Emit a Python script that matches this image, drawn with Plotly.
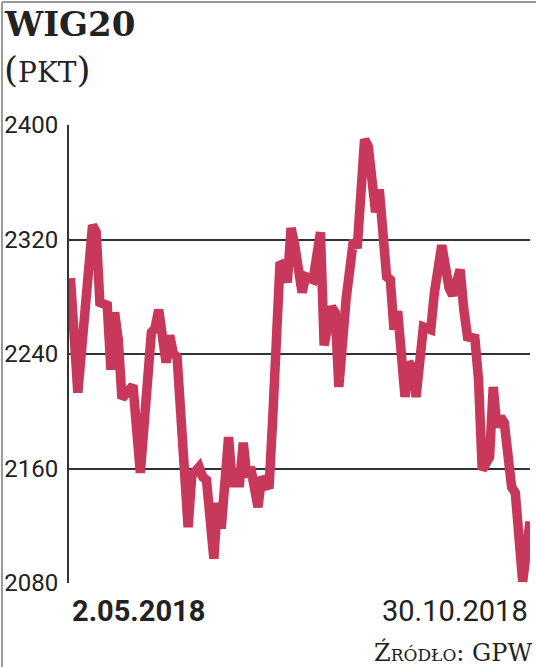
import plotly.graph_objects as go

# WIG20 close (session index from 2.05.2018 to 30.10.2018)
sessions = [0, 2, 6, 7, 8, 10, 11, 12, 13, 14, 17, 19, 22, 23, 24, 26, 27, 28, 29,
            32, 33, 35, 36, 37, 39, 40, 41, 43, 44, 46, 47, 48, 49, 51, 52, 54, 55,
            56, 57, 58, 59, 60, 61, 63, 64, 66, 68, 69, 71, 72, 73, 75, 77, 78, 79,
            80, 81, 83, 84, 86, 87, 88, 89, 91, 92, 93, 94, 96, 98, 99, 101, 103,
            104, 106, 107, 108, 110, 111, 112, 114, 115, 116, 117, 118, 120, 121,
            123, 125]
wig20 = [2293, 2213, 2330, 2325, 2276, 2274, 2229, 2269, 2250, 2209, 2218, 2157,
         2255, 2258, 2271, 2234, 2253, 2240, 2238,
         2119, 2155, 2161, 2154, 2152, 2097, 2136, 2118, 2182, 2150, 2150, 2178,
         2154, 2161, 2133, 2154, 2146, 2194,
         2248, 2304, 2302, 2290, 2328, 2316, 2283, 2294, 2292, 2325, 2246, 2273,
         2269, 2217, 2279, 2320, 2314, 2366,
         2390, 2385, 2339, 2355, 2294, 2292, 2257, 2270, 2210, 2234, 2231, 2210,
         2259, 2257, 2283, 2316, 2286,
         2281, 2299, 2271, 2252, 2251, 2222, 2159, 2168, 2217, 2189, 2196, 2192,
         2147, 2143, 2081, 2123]

y_ticks = [2080, 2160, 2240, 2320, 2400]
date_first = "2.05.2018"
date_last = "30.10.2018"

INK = "#333333"
TEXT = "#222222"
RED = "#c8385a"

fig = go.Figure()
fig.add_trace(go.Scatter(
    x=sessions, y=wig20, mode="lines",
    line=dict(color=RED, width=9.5),
    cliponaxis=False, showlegend=False, hoverinfo="skip",
))

fig.update_layout(
    width=536, height=667,
    margin=dict(l=69, r=6, t=125, b=84),
    paper_bgcolor="white", plot_bgcolor="white",
    xaxis=dict(range=[-0.4, 125], showgrid=False, zeroline=False,
               showticklabels=False, showline=False, automargin=False),
    yaxis=dict(range=[2080, 2400], tickvals=y_ticks, showgrid=True,
               gridcolor=INK, gridwidth=2, zeroline=False,
               showline=True, linecolor=INK, linewidth=2,
               ticks="", ticklabelstandoff=4, automargin=False,
               tickfont=dict(family="Roboto", size=24, color=TEXT)),
    annotations=[
        dict(text="WIG20", xref="paper", yref="paper", x=-0.145, y=1.2686,
             xanchor="left", yanchor="top", showarrow=False,
             font=dict(family="DejaVu Serif", size=34, color=TEXT, weight="bold")),
        dict(text="<span style='font-size:36px'>(</span>PKT<span style='font-size:36px'>)</span>",
             xref="paper", yref="paper", x=-0.145, y=1.17,
             xanchor="left", yanchor="top", showarrow=False,
             font=dict(family="DejaVu Serif", size=28, color=TEXT)),
        dict(text=date_first, xref="x", yref="paper", x=0, y=-0.02,
             xanchor="left", yanchor="top", showarrow=False,
             font=dict(family="Roboto", size=29, color=TEXT, weight="bold")),
        dict(text=date_last, xref="x", yref="paper", x=125, y=-0.02,
             xanchor="right", yanchor="top", showarrow=False,
             font=dict(family="Roboto", size=29, color=TEXT)),
        dict(text="Źródło: GPW", xref="paper", yref="paper", x=1.008, y=-0.115,
             xanchor="right", yanchor="top", showarrow=False,
             font=dict(family="DejaVu Serif", size=24, color=TEXT, variant="small-caps")),
    ],
    shapes=[
        dict(type="line", xref="paper", yref="paper", x0=-0.1453, x1=-0.1453,
             y0=1.2686, y1=-0.2, line=dict(color="#9a9a9a", width=2)),
        dict(type="line", xref="paper", yref="paper", x0=-0.1453, x1=1.02,
             y0=1.2686, y1=1.2686, line=dict(color="#9a9a9a", width=2)),
    ],
)

fig.write_html("out.html", config={"displayModeBar": False},
               post_script="document.body.style.margin='0';")
